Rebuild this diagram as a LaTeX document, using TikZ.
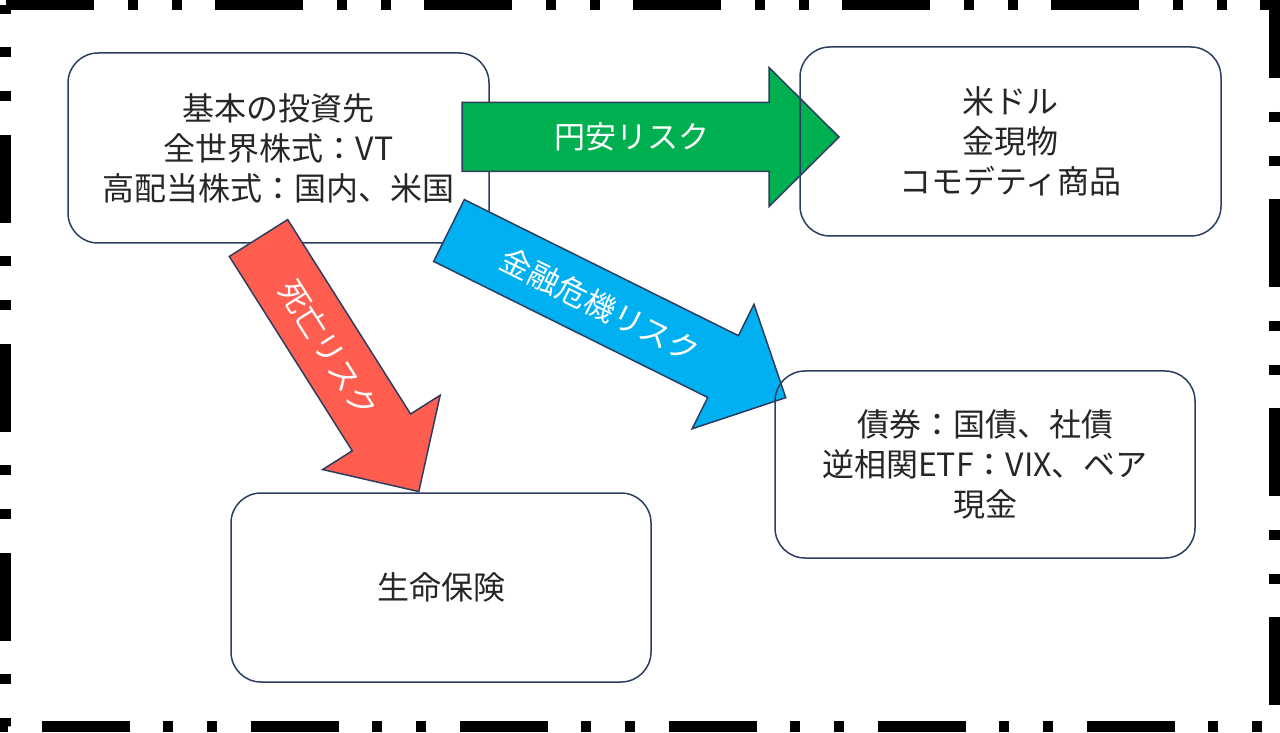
\documentclass[tikz,border=0pt]{standalone}
\usepackage{fontspec}
\setmainfont{Noto Sans CJK JP}
\usepackage{tikz}

\definecolor{edge}{HTML}{2C3E60}
\definecolor{yengreen}{HTML}{00B050}
\definecolor{deathred}{HTML}{FF5D4F}
\definecolor{crisisblue}{HTML}{00B0F0}

% block arrow: name, tail centre, angle, length, fill, text
\newcommand{\riskarrow}[6]{%
  \begin{scope}[shift={#2}, rotate=#3]
    \draw[riskshape, fill=#5] (0,34.5) -- ({#4-70},34.5) -- ({#4-70},69.5) -- (#4,0)
      -- ({#4-70},-69.5) -- ({#4-70},-34.5) -- (0,-34.5) -- cycle;
    \node[risktext, rotate=#3] (#1) at ({(#4-70)/2+16},0) {#6};
  \end{scope}}

\begin{document}
\begin{tikzpicture}[x=1pt, y=1pt,
    box/.style = {draw=edge, line width=1.5pt, rounded corners=30pt, align=center,
      text=black!85, font=\fontsize{32}{40}\selectfont},
    riskshape/.style = {draw=edge, line width=1.5pt, line join=miter},
    risktext/.style = {text=white, font=\fontsize{31}{38}\selectfont, inner sep=0pt},
    frame/.style = {line width=11pt,
      dash pattern=on 88pt off 34pt on 10pt off 34pt on 10pt off 33pt}]
  \useasboundingbox (0,0) rectangle (1280,732);
  \draw[frame] (5.5,727) -- (1274.5,727) -- (1274.5,6) -- (5.5,6) -- cycle;

  \node[box, minimum width=421pt, minimum height=190pt] (base) at (278.5,584)
    {基本の投資先\\全世界株式：VT\\高配当株式：国内、米国};

  \riskarrow{yen}{(462,595)}{0}{377}{yengreen}{円安リスク}
  \riskarrow{death}{(258.5,494)}{-57.7}{300}{deathred}{死亡リスク}
  \riskarrow{crisis}{(449,501.5)}{-26.4}{376}{crisisblue}{金融危機リスク}

  \node[box, minimum width=421pt, minimum height=189pt] (hedge) at (1010.5,590.5)
    {米ドル\\金現物\\コモデティ商品};
  \node[box, minimum width=420pt, minimum height=187pt] (safe) at (985,267.5)
    {債券：国債、社債\\逆相関ETF：VIX、ベア\\現金};
  \node[box, minimum width=420pt, minimum height=189pt] (life) at (441,144.5)
    {生命保険};
\end{tikzpicture}
\end{document}
